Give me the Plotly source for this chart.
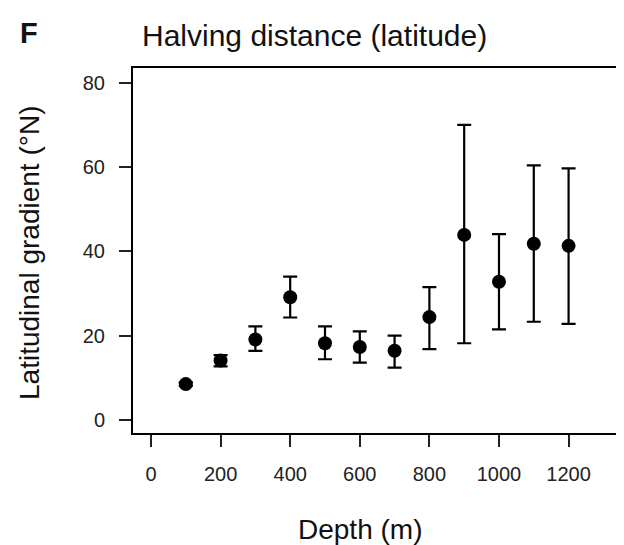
import plotly.graph_objects as go

depth = [100, 200, 300, 400, 500, 600, 700, 800, 900, 1000, 1100, 1200]
gradient = [8.5, 14.1, 19.1, 29.1, 18.2, 17.3, 16.4, 24.4, 43.9, 32.8, 41.8, 41.3]
upper = [8.9, 15.4, 22.2, 34.0, 22.2, 21.0, 20.0, 31.5, 70.0, 44.1, 60.4, 59.7]
lower = [8.1, 12.7, 16.4, 24.3, 14.4, 13.6, 12.4, 16.8, 18.2, 21.5, 23.3, 22.8]

x_ticks = [0, 200, 400, 600, 800, 1000, 1200]
y_ticks = [0, 20, 40, 60, 80]

err_plus = [u - g for u, g in zip(upper, gradient)]
err_minus = [g - l for g, l in zip(gradient, lower)]

font = "Liberation Sans, Arial, sans-serif"

# page has an 8px body margin; figure sized to fill the rest of the window
OFF = 8
W, H = 624 - OFF, 545 - OFF
l, r, t, b = 133 - OFF, 6, 68 - OFF, 112
pw, ph = W - l - r, H - t - b


def px_to_paper(px, py):
    return (px - OFF - l) / pw, 1 - (py - OFF - t) / ph


fig = go.Figure()
fig.add_trace(go.Scatter(
    x=depth, y=gradient, mode="markers",
    marker=dict(color="black", size=14),
    error_y=dict(type="data", symmetric=False, array=err_plus, arrayminus=err_minus,
                 color="black", thickness=2.2, width=7),
    showlegend=False,
))

axis_common = dict(ticks="outside", ticklen=12, tickwidth=2, tickcolor="#222",
                   showline=True, linecolor="black", linewidth=2, mirror=True,
                   showgrid=False, zeroline=False,
                   tickfont=dict(size=20, color="#222"), ticklabelstandoff=10)

fig.update_layout(
    width=W, height=H,
    margin=dict(l=l, r=r, t=t, b=b, autoexpand=False),
    paper_bgcolor="white", plot_bgcolor="white",
    font=dict(family=font, color="#111"),
    xaxis=dict(range=[-51.7, 1342], tickvals=x_ticks, **axis_common),
    yaxis=dict(range=[-3.1, 83.5], tickvals=y_ticks, **axis_common),
)

ann = [
    ("<b>F</b>", 18, 33, 29, "left", 0),
    ("Halving distance (latitude)", 140, 35, 30, "left", 0),
    ("Depth (m)", 360, 529, 28, "center", 0),
    ("Latitudinal gradient (°N)", 29, 253, 28, "center", -90),
]
for text, px, py, size, xa, ang in ann:
    ax, ay = px_to_paper(px, py)
    fig.add_annotation(text=text, x=ax, y=ay, xref="paper", yref="paper",
                       showarrow=False, font=dict(size=size, color="#111", family=font),
                       xanchor=xa, yanchor="middle", textangle=ang)

fig.write_html("out.html")
